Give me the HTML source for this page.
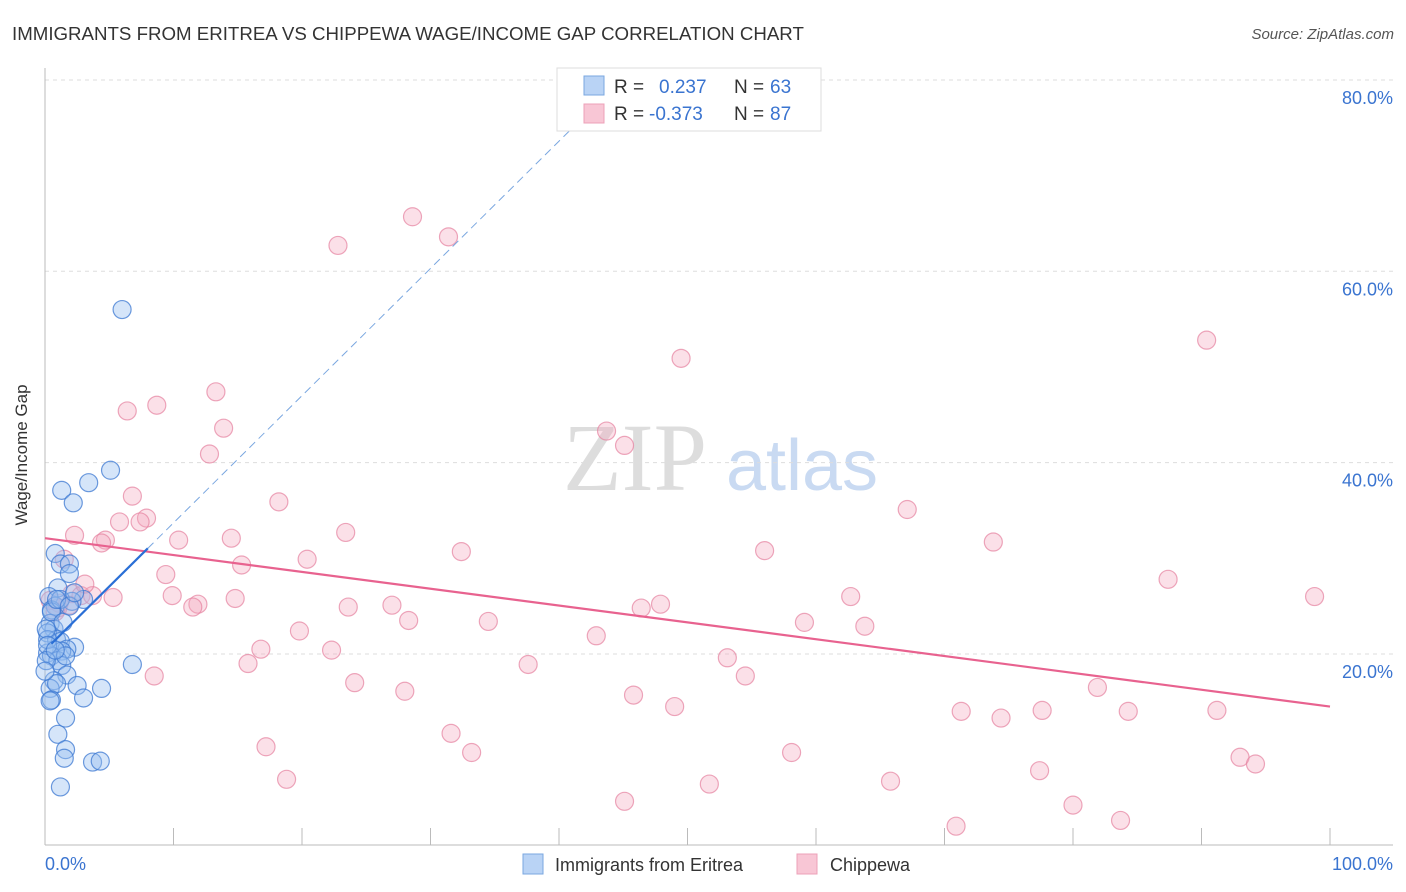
<!DOCTYPE html>
<html><head><meta charset="utf-8"><style>
body{margin:0;background:#fff;font-family:"Liberation Sans",sans-serif;}
svg{display:block}
</style></head><body>
<svg width="1406" height="892" xmlns="http://www.w3.org/2000/svg">
<text x="12" y="40" font-size="18.7" fill="#333">IMMIGRANTS FROM ERITREA VS CHIPPEWA WAGE/INCOME GAP CORRELATION CHART</text>
<text x="1394" y="39" font-size="15" fill="#555" font-style="italic" text-anchor="end">Source: ZipAtlas.com</text>
<g>
<text x="635" y="490" font-size="96" fill="#ddd" font-family="Liberation Serif,serif" text-anchor="middle">ZIP</text>
<text x="802" y="490" font-size="72" fill="#c9daf2" text-anchor="middle">atlas</text>
</g>
<g id="grid"></g>
<g id="axes"></g>
<g id="marks"></g>
<text x="27" y="455" font-size="17" fill="#333" text-anchor="middle" transform="rotate(-90 27 455)">Wage/Income Gap</text>
<text x="45" y="870" font-size="18" fill="#3a74d0">0.0%</text>
<text x="1393" y="870" font-size="18" fill="#3a74d0" text-anchor="end">100.0%</text>
<g>
<rect x="557" y="68" width="264" height="63" fill="#fff" stroke="#ddd"/>
<rect x="584" y="76" width="20" height="19" fill="#b9d3f5" stroke="#7aa7e0"/>
<rect x="584" y="104" width="20" height="19" fill="#f8c6d5" stroke="#eda0b8"/>
<text x="614" y="93" font-size="19" fill="#333">R = </text><text x="659" y="93" font-size="19" fill="#3a74d0">0.237</text>
<text x="734" y="93" font-size="19" fill="#333">N = </text><text x="770" y="93" font-size="19" fill="#3a74d0">63</text>
<text x="614" y="120" font-size="19" fill="#333">R = </text><text x="649" y="120" font-size="19" fill="#3a74d0">-0.373</text>
<text x="734" y="120" font-size="19" fill="#333">N = </text><text x="770" y="120" font-size="19" fill="#3a74d0">87</text>
</g>
<g>
<rect x="523" y="854" width="20" height="20" fill="#b9d3f5" stroke="#7aa7e0"/>
<text x="555" y="871" font-size="18" fill="#333">Immigrants from Eritrea</text>
<rect x="797" y="854" width="20" height="20" fill="#f8c6d5" stroke="#eda0b8"/>
<text x="830" y="871" font-size="18" fill="#333">Chippewa</text>
</g>
</svg>
<script>
const yTicks=[20,40,60,80];
const xTicks=[0,10,20,30,40,50,60,70,80,90,100];
const blueX=[6.0,5.1,3.4,1.3,2.2,0.8,1.2,1.9,1.0,1.9,0.3,3.0,2.1,0.8,0.5,0.4,0.7,0.2,0.9,1.2,2.3,1.7,1.3,0.2,0.5,1.0,1.3,1.7,0.7,0.4,0.9,2.5,4.4,3.0,0.5,1.6,1.0,1.6,1.5,3.7,4.3,1.2,6.8,0.2,0.1,0.2,0.5,1.2,1.6,0.1,0.0,0.4,0.8,1.4,0.9,1.9,2.3];
const blueY=[56.0,39.2,37.9,37.1,35.8,30.5,29.4,29.4,26.9,28.4,26.0,25.7,25.5,25.0,24.6,23.2,22.6,22.2,21.5,21.3,20.7,20.5,20.3,20.1,19.8,19.3,18.8,17.8,17.2,16.4,16.9,16.7,16.4,15.4,15.2,13.3,11.6,10.0,9.1,8.7,8.8,6.1,18.9,21.5,22.6,20.9,24.4,25.7,19.8,19.3,18.2,15.1,20.4,23.3,25.7,25.0,26.4];
const pinkX=[28.6,22.8,31.4,90.4,49.5,13.3,8.7,6.4,13.9,43.7,45.1,12.8,6.8,18.2,67.1,5.8,7.9,7.4,2.3,23.4,4.7,4.4,10.4,14.5,73.8,32.4,56.0,20.4,2.1,15.3,9.4,87.4,2.8,5.3,9.9,3.7,98.8,62.7,14.8,47.9,11.9,11.5,27.0,23.6,46.4,1.9,1.1,1.0,28.3,34.5,59.1,63.8,19.8,42.9,16.8,22.3,53.1,15.8,37.6,8.5,54.5,24.1,28.0,81.9,45.8,49.0,71.3,77.6,74.4,84.3,91.2,31.6,17.2,33.2,58.1,93.0,94.2,18.8,51.7,65.8,77.4,45.1,80.0,70.9,83.7,0.4,0.8,1.5,3.1];
const pinkY=[65.7,62.7,63.6,52.8,50.9,47.4,46.0,45.4,43.6,43.3,41.8,40.9,36.5,35.9,35.1,33.8,34.2,33.8,32.4,32.7,31.9,31.6,31.9,32.1,31.7,30.7,30.8,29.9,26.3,29.3,28.3,27.8,26.1,25.9,26.1,26.1,26.0,26.0,25.8,25.2,25.2,24.9,25.1,24.9,24.8,25.1,25.3,24.8,23.5,23.4,23.3,22.9,22.4,21.9,20.5,20.4,19.6,19.0,18.9,17.7,17.7,17.0,16.1,16.5,15.7,14.5,14.0,14.1,13.3,14.0,14.1,11.7,10.3,9.7,9.7,9.2,8.5,6.9,6.4,6.7,7.8,4.6,4.2,2.0,2.6,25.6,24.4,29.9,27.3];
const blueIntercept=20.4, blueSlope=1.33, blueSolidEnd=8.0;
const pinkIntercept=32.1, pinkSlope=-0.176;
const X=v=>45+v*12.85, Y=v=>845.3-v*9.567;
const NS='http://www.w3.org/2000/svg';
function mk(t,a,p){const e=document.createElementNS(NS,t);for(const k in a)e.setAttribute(k,a[k]);p.appendChild(e);return e;}
const grid=document.getElementById('grid'),axes=document.getElementById('axes'),marks=document.getElementById('marks');
yTicks.forEach(v=>{
 const l=mk('line',{x1:45,x2:1393,y1:Y(v),y2:Y(v),stroke:'#ddd','stroke-dasharray':'4,4'},grid);
 
 
 const t=mk('text',{x:1393,y:Y(v)+24,'font-size':18,fill:'#3a74d0','text-anchor':'end'},grid);
 t.textContent=v.toFixed(1)+'%';
 
 
});
const ya=mk('line',{x1:45,x2:45,y1:68,y2:845,stroke:'#bbb'},axes);


const xa=mk('line',{x1:45,x2:1393,y1:845,y2:845,stroke:'#bbb'},axes);


xTicks.forEach(v=>{
 const t=mk('line',{x1:X(v),x2:X(v),y1:828,y2:845,stroke:'#bbb'},axes);
 
 
});
pinkX.forEach((x,i)=>{
 const c=mk('circle',{cx:X(x),cy:Y(pinkY[i]),r:9,fill:'rgba(244,166,190,0.35)',stroke:'rgba(230,130,160,0.7)','stroke-width':1.2},marks);
 
 
});
blueX.forEach((x,i)=>{
 const c=mk('circle',{cx:X(x),cy:Y(blueY[i]),r:9,fill:'rgba(150,190,240,0.4)',stroke:'rgba(60,120,210,0.75)','stroke-width':1.2},marks);
 
 
});
const pl=mk('line',{x1:X(0),y1:Y(pinkIntercept),x2:X(100),y2:Y(pinkIntercept+pinkSlope*100),stroke:'#e8628f','stroke-width':2.2},marks);


const bl=mk('line',{x1:X(0.5),y1:Y(blueIntercept+blueSlope*0.5),x2:X(blueSolidEnd),y2:Y(blueIntercept+blueSlope*blueSolidEnd),stroke:'#2a6fd6','stroke-width':2.2},marks);


const bd=mk('line',{x1:X(blueSolidEnd),y1:Y(blueIntercept+blueSlope*blueSolidEnd),x2:X(41),y2:Y(blueIntercept+blueSlope*41),stroke:'#7aa7e0','stroke-width':1,'stroke-dasharray':'8,5'},marks);


</script>
</body></html>
